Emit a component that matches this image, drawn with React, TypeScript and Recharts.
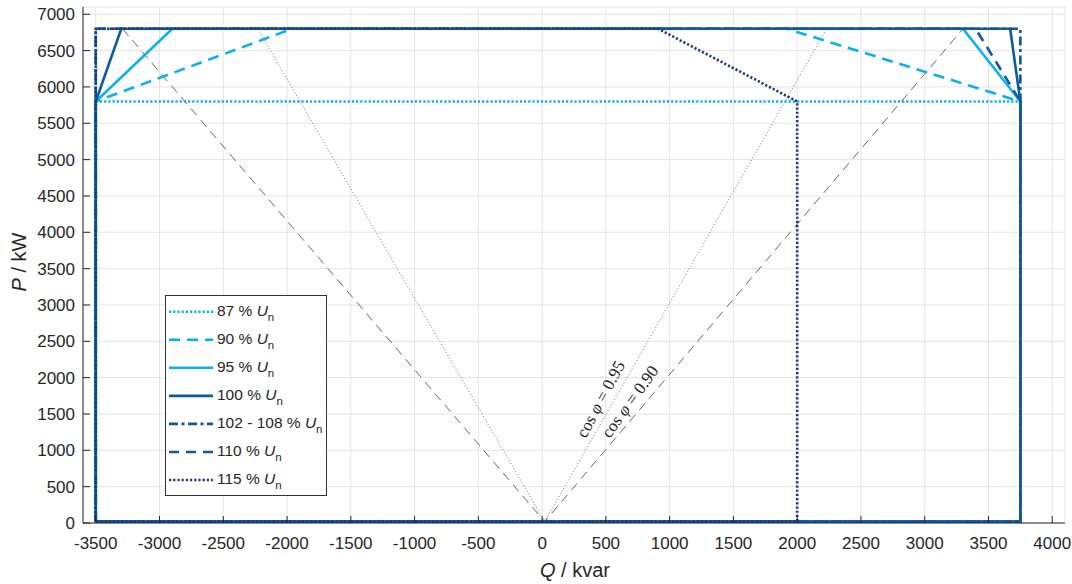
import React from 'react';
import {
  LineChart, Line, XAxis, YAxis, CartesianGrid, Legend, ReferenceDot, Customized,
} from 'recharts';

// ---- data (Q in kvar, P in kW) ----
const Q_TICKS = [-3500, -3000, -2500, -2000, -1500, -1000, -500, 0, 500, 1000, 1500, 2000, 2500, 3000, 3500, 4000];
const P_TICKS = [0, 500, 1000, 1500, 2000, 2500, 3000, 3500, 4000, 4500, 5000, 5500, 6000, 6500, 7000];

const u87 = [
  { Q: -3500, P: 20 }, { Q: -3500, P: 5800 }, { Q: 3750, P: 5800 }, { Q: 3750, P: 20 }, { Q: -3500, P: 20 },
];
const u90 = [
  { Q: -3500, P: 20 }, { Q: -3500, P: 5800 }, { Q: -1960, P: 6800 }, { Q: 1920, P: 6800 },
  { Q: 3750, P: 5800 }, { Q: 3750, P: 20 }, { Q: -3500, P: 20 },
];
const u95 = [
  { Q: -3500, P: 20 }, { Q: -3500, P: 5800 }, { Q: -2900, P: 6800 }, { Q: 3300, P: 6800 },
  { Q: 3750, P: 5800 }, { Q: 3750, P: 20 }, { Q: -3500, P: 20 },
];
const u100 = [
  { Q: -3500, P: 20 }, { Q: -3500, P: 5800 }, { Q: -3300, P: 6800 }, { Q: 3670, P: 6800 },
  { Q: 3750, P: 5800 }, { Q: 3750, P: 20 }, { Q: -3500, P: 20 },
];
const u102 = [
  { Q: -3500, P: 20 }, { Q: -3500, P: 6800 }, { Q: 3750, P: 6800 }, { Q: 3750, P: 20 }, { Q: -3500, P: 20 },
];
const u110 = [
  { Q: -3500, P: 20 }, { Q: -3500, P: 6800 }, { Q: 3400, P: 6800 }, { Q: 3750, P: 5800 },
  { Q: 3750, P: 20 }, { Q: -3500, P: 20 },
];
const u115 = [
  { Q: -3500, P: 20 }, { Q: -3500, P: 6800 }, { Q: 910, P: 6800 }, { Q: 2000, P: 5800 },
  { Q: 2000, P: 20 }, { Q: -3500, P: 20 },
];
const cos090 = [{ Q: -3290, P: 6800 }, { Q: 20, P: 20 }, { Q: 3300, P: 6800 }];
const cos095 = [{ Q: -2230, P: 6800 }, { Q: 20, P: 20 }, { Q: 2230, P: 6800 }];

const LEGEND_LABELS = ['87 % ', '90 % ', '95 % ', '100 % ', '102 - 108 % ', '110 % ', '115 % '];
const COS_LABELS = [
  { Q: 471, P: 1692, text: '0.95' },
  { Q: 699, P: 1655, text: '0.90' },
];

// ---- styles ----
const LIGHT = '#08b0f0';
const SERIES = [
  { data: u87, color: LIGHT, dash: '2.2 2', width: 2.6 },
  { data: u90, color: LIGHT, dash: '11 7', width: 2.6 },
  { data: u95, color: LIGHT, dash: undefined, width: 2.6 },
  { data: u100, color: '#0c5b9d', dash: undefined, width: 2.6 },
  { data: u102, color: '#0e5696', dash: '9 3.5 3 3.5', width: 2.6 },
  { data: u110, color: '#135a9b', dash: '10 7', width: 2.6 },
  { data: u115, color: '#1b3b7c', dash: '2.2 2', width: 2.6 },
];
const COS_ANGLES = [-62, -54];
const TXT = '#262626';
const SANS = 'Liberation Sans, Arial, Helvetica, sans-serif';
const SERIF = 'Liberation Serif, Times New Roman, serif';

const LegendBox = () => (
  <svg width={163} height={202} style={{ display: 'block' }}>
    <rect x={0.5} y={0.5} width={161} height={200} fill="#fff" stroke="#333" strokeWidth={1} />
    {SERIES.map((s, i) => {
      const cy = 16.7 + i * 28.05;
      return (
        <g key={i}>
          <line x1={4} x2={48} y1={cy} y2={cy} stroke={s.color} strokeWidth={s.width}
            strokeDasharray={s.dash} />
          <text x={52} y={cy + 4} fontFamily={SANS} fontSize={15.5} fill={TXT}>
            {LEGEND_LABELS[i]}
            <tspan fontStyle="italic">U</tspan>
            <tspan fontSize={11.5} dy={5}>n</tspan>
          </text>
        </g>
      );
    })}
  </svg>
);

const AxisTitles = () => (
  <g fontFamily={SANS} fill={TXT} fontSize={20}>
    <text x={26} y={262} textAnchor="middle" transform="rotate(-90 26 262)">
      <tspan fontStyle="italic">P</tspan> / kW
    </text>
    <text x={575} y={577} textAnchor="middle">
      <tspan fontStyle="italic">Q</tspan> / kvar
    </text>
  </g>
);

const makeCosShape = (i: number) => (p: any) => {
  const { cx, cy } = p;
  return (
    <text x={cx} y={cy} transform={`rotate(${COS_ANGLES[i]} ${cx} ${cy})`} textAnchor="middle"
      dominantBaseline="middle" fontFamily={SERIF} fontSize={17} fill="#222">
      cos <tspan fontStyle="italic">φ</tspan> = {COS_LABELS[i].text}
    </text>
  );
};

export default function App() {
  const tickStyle = { fontFamily: SANS, fontSize: 17, fill: TXT };
  return (
    <div style={{ position: 'absolute', left: 0, top: 0, width: 1072, height: 584, background: '#fff' }}>
      <LineChart width={1072} height={584} margin={{ top: 7, right: 7, bottom: 0, left: 0 }}>
        <CartesianGrid stroke="#e4e4e4" strokeWidth={1} />
        <XAxis xAxisId={0} dataKey="Q" type="number" domain={[-3600, 4100]} allowDataOverflow
          ticks={Q_TICKS} interval={0} height={61} tickSize={-7} tickMargin={21}
          tick={tickStyle} stroke={TXT} tickLine={{ stroke: TXT }} axisLine={{ stroke: TXT }} />
        <XAxis xAxisId="top" orientation="top" dataKey="Q" type="number" domain={[-3600, 4100]}
          allowDataOverflow ticks={Q_TICKS} interval={0} height={0} tickSize={-7}
          tickFormatter={() => ''} stroke={TXT} />
        <YAxis yAxisId={0} type="number" domain={[0, 7100]} allowDataOverflow ticks={P_TICKS}
          interval={0} width={83} tickSize={-7} tickMargin={15} tick={tickStyle} stroke={TXT} />
        <YAxis yAxisId="right" orientation="right" type="number" domain={[0, 7100]} allowDataOverflow
          ticks={P_TICKS} interval={0} width={0} tickSize={-7} tickFormatter={() => ''} stroke={TXT} />

        <Line data={u87} dataKey="P" xAxisId="top" yAxisId="right" stroke="none" dot={false}
          legendType="none" isAnimationActive={false} />

        <Line data={cos090} dataKey="P" type="linear" stroke="#555" strokeWidth={0.9}
          strokeDasharray="9 6" dot={false} isAnimationActive={false} legendType="none" />
        <Line data={cos095} dataKey="P" type="linear" stroke="#666" strokeWidth={0.9}
          strokeDasharray="1 2.2" dot={false} isAnimationActive={false} legendType="none" />

        {SERIES.map((s, i) => (
          <Line key={i} data={s.data} dataKey="P" type="linear" name={LEGEND_LABELS[i]}
            stroke={s.color} strokeWidth={s.width} strokeDasharray={s.dash} dot={false}
            activeDot={false} isAnimationActive={false} />
        ))}

        {COS_LABELS.map((c, i) => (
          <ReferenceDot key={i} x={c.Q} y={c.P} r={0} shape={makeCosShape(i)} />
        ))}

        <Legend layout="vertical" align="center" verticalAlign="middle" content={() => <LegendBox />}
          wrapperStyle={{ position: 'absolute', left: 165, top: 295, width: 163, height: 202, margin: 0 }} />
        <Customized component={<AxisTitles />} />
      </LineChart>
    </div>
  );
}
